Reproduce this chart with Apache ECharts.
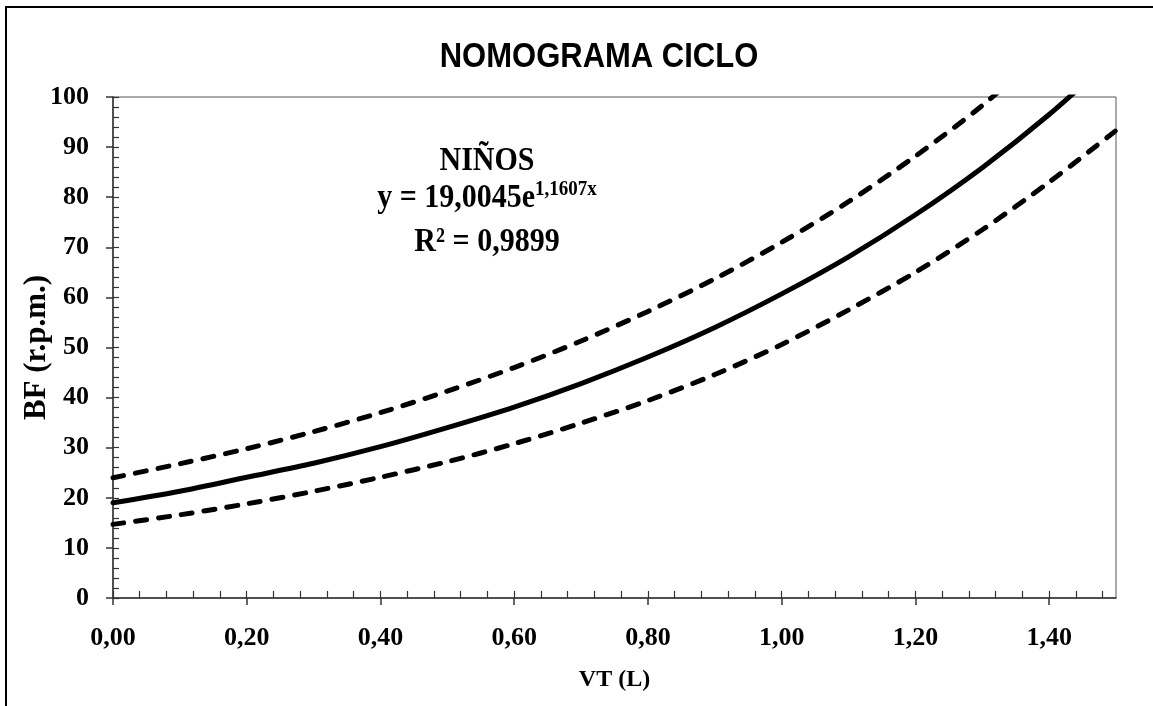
<!DOCTYPE html>
<html>
<head>
<meta charset="utf-8">
<script src="https://cdn.jsdelivr.net/npm/echarts@6/dist/echarts.min.js"></script>
<style>
html,body{margin:0;padding:0;background:#fff;}
#chart{width:1153px;height:706px;}
</style>
</head>
<body>
<div id="chart"></div>
<script>
// ---- data ----
const xValues   = [0, 0.1, 0.2, 0.3, 0.4, 0.5, 0.6, 0.7, 0.8, 0.9, 1.0, 1.1, 1.2, 1.3, 1.4, 1.5];
const fitted    = [19.0, 21.3, 24.1, 26.9, 30.2, 34.0, 38.1, 42.8, 48.1, 54.0, 60.7, 68.1, 76.5, 85.9, 96.5, 108.4];
const upperBand = [24.0, 26.8, 29.8, 33.2, 37.0, 41.3, 46.0, 51.3, 57.2, 63.7, 71.0, 79.1, 88.2, 98.3, 110.0, null];
const lowerBand = [14.7, 16.6, 18.8, 21.3, 24.1, 27.2, 30.8, 34.9, 39.4, 44.6, 50.6, 57.5, 65.0, 73.5, 83.0, 93.3];
const xMajorTicks = [0, 0.2, 0.4, 0.6, 0.8, 1.0, 1.2, 1.4];
const xMinorTicks = [0.04, 0.08, 0.12, 0.16, 0.24, 0.28, 0.32, 0.36, 0.44, 0.48, 0.52, 0.56, 0.64, 0.68, 0.72, 0.76,
                     0.84, 0.88, 0.92, 0.96, 1.04, 1.08, 1.12, 1.16, 1.24, 1.28, 1.32, 1.36, 1.44, 1.48];
const titleText = 'NOMOGRAMA CICLO';
const xName = 'VT (L)';
const yName = 'BF (r.p.m.)';

const pairs = arr => xValues.map((x, i) => [x, arr[i]]).filter(p => p[1] !== null);
const fmtX = v => v.toFixed(2).replace('.', ',');

const serif = "'Liberation Serif', 'Times New Roman', serif";
const labelStyle = {fontFamily: serif, fontWeight: 'bold', fontSize: 26, color: '#000'};

const chart = echarts.init(document.getElementById('chart'), null, {renderer: 'canvas'});
const option = {
  backgroundColor: '#fff',
  animation: false,
  grid: {left: 113, top: 97, right: 37, bottom: 108, show: true, borderColor: '#555', borderWidth: 1, outerBoundsMode: 'none'},
  xAxis: [
    {
      type: 'value', min: 0, max: 1.5, position: 'bottom',
      name: xName, nameLocation: 'middle', nameGap: 70, nameMoveOverlap: false,
      nameTextStyle: {fontFamily: serif, fontWeight: 'bold', fontSize: 24, color: '#000'},
      axisLine: {show: true, onZero: false, lineStyle: {color: '#333', width: 1.5}},
      axisTick: {show: true, inside: false, length: 7, customValues: xMajorTicks, lineStyle: {color: '#333', width: 1.5}},
      axisLabel: Object.assign({margin: 27, customValues: xMajorTicks, formatter: fmtX}, labelStyle),
      splitLine: {show: false}
    },
    {
      type: 'value', min: 0, max: 1.5, position: 'bottom',
      axisLine: {show: false},
      axisTick: {show: true, inside: true, length: 7, customValues: xMinorTicks.concat(xMajorTicks), lineStyle: {color: '#333', width: 1.2}},
      axisLabel: {show: false},
      splitLine: {show: false}
    }
  ],
  yAxis: [
    {
      type: 'value', min: 0, max: 100, interval: 10, position: 'left',
      name: yName, nameLocation: 'middle', nameGap: 61, nameRotate: 90, nameMoveOverlap: false,
      nameTextStyle: {fontFamily: serif, fontWeight: 'bold', fontSize: 31, color: '#000'},
      axisLine: {show: true, onZero: false, lineStyle: {color: '#333', width: 1.5}},
      axisTick: {show: true, inside: false, length: 7, lineStyle: {color: '#333', width: 1.5}},
      axisLabel: Object.assign({margin: 24}, labelStyle),
      splitLine: {show: false}
    },
    {
      type: 'value', min: 0, max: 100, interval: 2, position: 'left',
      axisLine: {show: false},
      axisTick: {show: true, inside: true, length: 6, lineStyle: {color: '#333', width: 1.2}},
      axisLabel: {show: false},
      splitLine: {show: false}
    }
  ],
  series: [
    {
      type: 'line', name: 'fit', data: pairs(fitted), smooth: 0.3, showSymbol: false, clip: true,
      lineStyle: {color: '#000', width: 5, cap: 'round'}
    },
    {
      type: 'line', name: 'upper', data: pairs(upperBand), smooth: 0.3, showSymbol: false, clip: true,
      lineStyle: {color: '#000', width: 5, type: [11, 12], cap: 'round'}
    },
    {
      type: 'line', name: 'lower', data: pairs(lowerBand), smooth: 0.3, showSymbol: false, clip: true,
      lineStyle: {color: '#000', width: 5, type: [11, 12], cap: 'round'}
    }
  ],
  graphic: [
    {type: 'polyline', silent: true, shape: {points: [[6, 706], [6, 7], [1153, 7]]}, style: {stroke: '#000', lineWidth: 2, fill: null}},
    {type: 'text', x: 599, y: 57, scaleY: 1.12, silent: true,
      style: {text: titleText, fontFamily: "'Liberation Sans', Arial, sans-serif", fontWeight: 'bold', fontSize: 31,
        fill: '#000', align: 'center', verticalAlign: 'middle'}},
    {type: 'text', x: 487, y: 161, scaleY: 1.12, silent: true,
      style: {text: 'NIÑOS', fontFamily: serif, fontWeight: 'bold', fontSize: 30, fill: '#000', align: 'center', verticalAlign: 'middle'}},
    {type: 'text', x: 487, y: 198, scaleY: 1.12, silent: true,
      style: {text: '{a|y = 19,0045e}{s|1,1607x}', align: 'center', verticalAlign: 'middle',
        rich: {
          a: {fontFamily: serif, fontWeight: 'bold', fontSize: 30, fill: '#000', lineHeight: 34},
          s: {fontFamily: serif, fontWeight: 'bold', fontSize: 19, fill: '#000', lineHeight: 34, verticalAlign: 'top'}
        }}},
    {type: 'text', x: 487, y: 242, scaleY: 1.12, silent: true,
      style: {text: 'R² = 0,9899', fontFamily: serif, fontWeight: 'bold', fontSize: 30, fill: '#000', align: 'center', verticalAlign: 'middle'}}
  ]
};
chart.setOption(option);
</script>
</body>
</html>
